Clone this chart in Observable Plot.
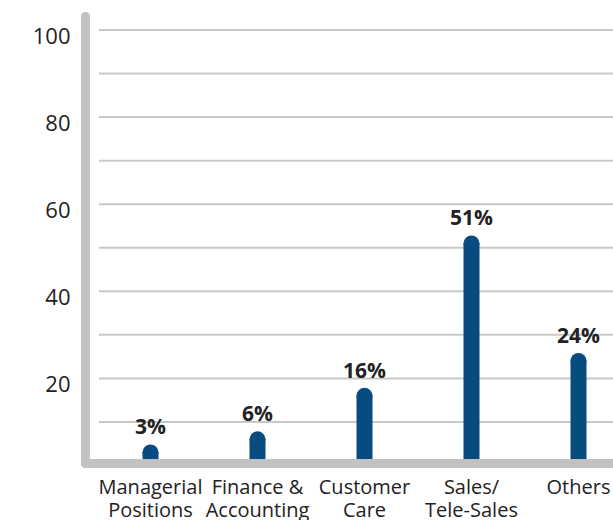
<!DOCTYPE html>
<html>
<head>
<meta charset="utf-8">
<script src="https://cdn.jsdelivr.net/npm/d3@7"></script>
<script src="https://cdn.jsdelivr.net/npm/@observablehq/plot@0.6"></script>
<style>
  html, body { margin: 0; padding: 0; background: #fff; }
</style>
</head>
<body>
<div id="chart"></div>
<script>
const categories = ["Managerial\nPositions", "Finance &\nAccounting", "Customer\nCare", "Sales/\nTele-Sales", "Others"];
const values = [3, 6, 16, 51, 24];
const yTicks = [20, 40, 60, 80, 100];
const gridValues = [10, 20, 30, 40, 50, 60, 70, 80, 90, 100];

const data = categories.map((c, i) => ({category: c, value: values[i]}));

const barColor = "#084b7f";
const axisGray = "#c2c2c2";

const chart = Plot.plot({
  width: 613,
  height: 520,
  marginLeft: 85,
  marginRight: 0,
  marginTop: 16,
  marginBottom: 57,
  style: {fontFamily: "'Open Sans', sans-serif", color: "#222", background: "#fff"},
  x: {type: "point", domain: categories, range: [150, 578], padding: 0},
  y: {domain: [0, 100], range: [465, 29.5]},
  marks: [
    Plot.ruleY(gridValues, {stroke: "#c8c8c8", strokeWidth: 2, insetLeft: 14}),
    Plot.ruleX(data, {x: "category", y1: 0, y2: "value", stroke: barColor, strokeWidth: 16}),
    Plot.dot(data, {x: "category", y: "value", r: 8, fill: barColor, stroke: null}),
    Plot.frame({anchor: "left", stroke: axisGray, strokeWidth: 9, strokeLinecap: "round"}),
    Plot.frame({anchor: "bottom", stroke: axisGray, strokeWidth: 9, strokeLinecap: "round"}),
    Plot.text(data, {
      x: "category", y: "value", text: d => `${d.value}%`,
      lineAnchor: "bottom", dy: -18, fontWeight: "bold", fontSize: 21, fill: "#222"
    }),
    Plot.axisY({ticks: yTicks, tickSize: 0, tickPadding: 15, fontSize: 22, dy: 7, label: null}),
    Plot.axisX({tickSize: 0, tickPadding: 15, fontSize: 20, lineHeight: 1.12, label: null})
  ]
});

document.getElementById("chart").appendChild(chart);
</script>
</body>
</html>
